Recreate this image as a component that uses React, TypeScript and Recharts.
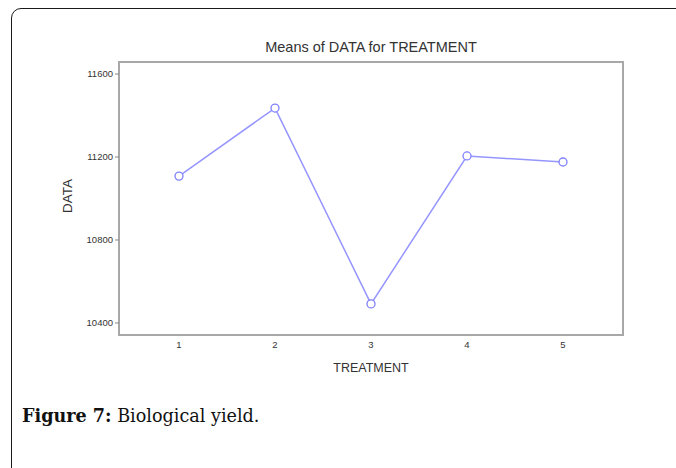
import React from 'react';
import { LineChart, Line, XAxis, YAxis, ReferenceArea } from 'recharts';

const treatments = [1, 2, 3, 4, 5];
const means = [11108, 11436, 10492, 11205, 11176];
const yTicks = [10400, 10800, 11200, 11600];
const xTicks = [1, 2, 3, 4, 5];
const xDomain: [number, number] = [0.375, 5.625];
const yDomain: [number, number] = [10342, 11658];

const chartData = treatments.map((t, i) => ({ treatment: t, data: means[i] }));

const sans = "Arial, 'Liberation Sans', sans-serif";
const serif = "'DejaVu Serif', 'Liberation Serif', serif";

export default function App() {
  return (
    <div style={{ position: 'absolute', left: 0, top: 0, width: 676, height: 468, overflow: 'hidden', background: '#fff' }}>
      <div
        style={{
          position: 'absolute',
          left: 11,
          top: 8,
          width: 800,
          height: 600,
          border: '1.5px solid #1a1a1a',
          borderRadius: 10,
          boxSizing: 'border-box',
        }}
      />
      <div style={{ position: 'absolute', left: 0, top: 0 }}>
        <LineChart
          width={676}
          height={468}
          data={chartData}
          margin={{ top: 62, right: 53, bottom: 103, left: 69 }}
        >
          <ReferenceArea
            x1={xDomain[0]}
            x2={xDomain[1]}
            y1={yDomain[0]}
            y2={yDomain[1]}
            fill="none"
            stroke="#a8a8a8"
            strokeWidth={2}
            ifOverflow="visible"
          />
          <XAxis
            dataKey="treatment"
            type="number"
            domain={xDomain}
            ticks={xTicks}
            allowDataOverflow
            axisLine={false}
            tickLine={false}
            tickSize={4}
            tickMargin={2}
            height={30}
            tick={{ fontSize: 9.5, fill: '#333', fontFamily: sans }}
          />
          <YAxis
            type="number"
            domain={yDomain}
            ticks={yTicks}
            allowDataOverflow
            axisLine={false}
            tickLine={{ stroke: '#888' }}
            tickSize={4}
            tickMargin={2}
            width={50}
            tick={{ fontSize: 9.5, fill: '#333', fontFamily: sans }}
          />
          <Line
            dataKey="data"
            type="linear"
            stroke="#9595ff"
            strokeWidth={1.5}
            dot={{ r: 4, stroke: '#8080ff', strokeWidth: 1.3, fill: '#fff' }}
            isAnimationActive={false}
          />
        </LineChart>
      </div>
      <div
        style={{
          position: 'absolute',
          left: 0,
          width: 742,
          top: 38,
          textAlign: 'center',
          fontFamily: sans,
          fontSize: 14.5,
          color: '#333',
          lineHeight: '18px',
        }}
      >
        Means of DATA for TREATMENT
      </div>
      <div
        style={{
          position: 'absolute',
          left: 0,
          width: 742,
          top: 359,
          textAlign: 'center',
          fontFamily: sans,
          fontSize: 12.5,
          color: '#333',
          lineHeight: '18px',
        }}
      >
        TREATMENT
      </div>
      <div
        style={{
          position: 'absolute',
          left: 68,
          top: 196,
          transform: 'translate(-50%, -50%) rotate(-90deg)',
          fontFamily: sans,
          fontSize: 13.5,
          color: '#333',
          lineHeight: '16px',
          whiteSpace: 'nowrap',
        }}
      >
        DATA
      </div>
      <div
        style={{
          position: 'absolute',
          left: 22,
          top: 405,
          fontFamily: serif,
          fontSize: 17.6,
          color: '#111',
          lineHeight: '22px',
          whiteSpace: 'nowrap',
        }}
      >
        <b>Figure 7:</b> Biological yield.
      </div>
    </div>
  );
}
